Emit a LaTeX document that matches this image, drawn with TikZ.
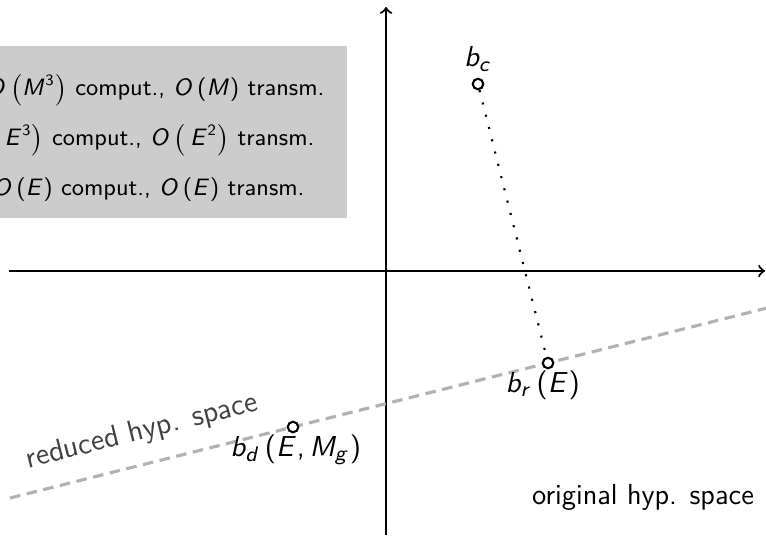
\documentclass[tikz,border=0pt]{standalone}
\usetikzlibrary{positioning}
% sans serif letters and digits in math
\SetSymbolFont{letters}{normal}{OT1}{cmss}{m}{sl}
\SetSymbolFont{operators}{normal}{OT1}{cmss}{m}{n}
\AtBeginDocument{\mathcode`\,="602C}
\tikzset{
    axisarrow/.style={->, thick},
    hyppoint/.style={shape=circle, draw=black, fill=white, thick, inner sep=0pt, minimum size=4pt},
    redline/.style={-, very thick, draw=black!30, dash pattern=on 4pt off 2.5pt},
    costtext/.style={anchor=east, inner sep=0pt, font=\sffamily\small}
}
\renewcommand{\familydefault}{\sfdefault}

\begin{document}
\begin{tikzpicture}[font=\sffamily\fontsize{11}{13}\selectfont]
    \clip (0,0) rectangle (10.213,7.133);

    \node[fill=black!20, minimum width=5.14cm, minimum height=2.306cm, anchor=north east] (costbox) at (4.64,6.533) {};
    \node[costtext] (cost1) at (4.333,5.933) {$O\left(M^3\right)$ comput., $O\left(M\right)$ transm.};
    \node[costtext] (cost2) at (4.2,5.267) {$O\left(\,E^3\right)$ comput., $O\left(\,E^2\right)$ transm.};
    \node[costtext] (cost3) at (4.067,4.6) {$O\left(E\right)$ comput., $O\left(E\right)$ transm.};

    \coordinate (xstart) at (0.12,3.52);
    \coordinate (xend) at (10.2,3.52);
    \coordinate (ystart) at (5.147,0);
    \coordinate (yend) at (5.147,7.04);
    \path [axisarrow](xstart) edge (xend);
    \path [axisarrow](ystart) edge (yend);

    \coordinate (redstart) at (0.133,0.493);
    \coordinate (redend) at (10.213,3.023);
    \path [redline](redstart) edge node[sloped, above=3pt, pos=.185, text=black!75, font=\sffamily\fontsize{11.5}{14}\selectfont] (redlabel) {reduced hyp. space} (redend);

    \node[hyppoint] (bc) at (6.373,6.013) {};
    \node[hyppoint] (br) at (7.307,2.293) {};
    \node[hyppoint] (bd) at (3.907,1.44) {};
    \path [loosely dotted, thick](bc) edge (br);

    \node[above=-1pt of bc] (bclabel) {$b_c$};
    \node[below=-3pt of br, xshift=-2pt] (brlabel) {$b_r\left(E\right)$};
    \node[below=-3pt of bd, xshift=1pt] (bdlabel) {$b_d\left(E, M_g\right)$};

    \node (origlabel) at (8.573,0.507) {original hyp. space};
\end{tikzpicture}
\end{document}
